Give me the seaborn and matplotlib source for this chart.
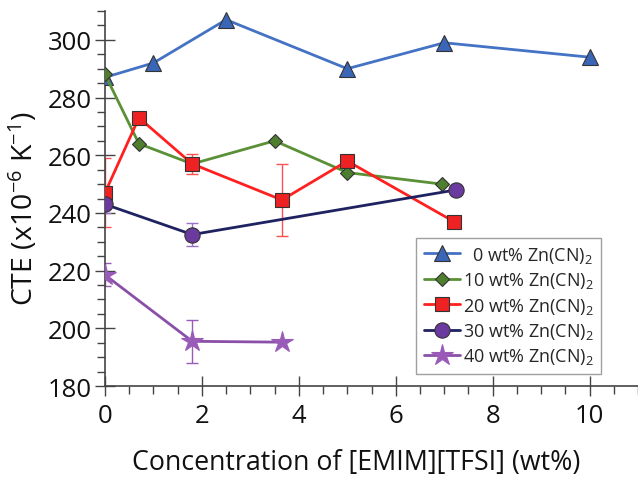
import matplotlib
matplotlib.use("Agg")
import matplotlib.pyplot as plt
import seaborn as sns
import numpy as np
import pandas as pd
from matplotlib.ticker import MultipleLocator

# ---- data ----
x0 = [0, 1, 2.5, 5, 7, 10]
y0 = [287, 292, 307, 290, 299, 294]

x10 = [0, 0.7, 1.8, 3.5, 5, 6.95]
y10 = [288, 264, 257, 265, 254, 250]

x20 = [0, 0.7, 1.8, 3.65, 5, 7.2]
y20 = [247, 273, 257, 244.5, 258, 237]
e20 = [12, 0, 3.5, 12.5, 0, 0]

x30 = [0, 1.8, 7.25]
y30 = [243, 232.5, 248]
e30 = [3, 4, 0]

x40 = [0, 1.8, 3.65]
y40 = [218.5, 195.5, 195.2]
e40 = [4, 7.5, 0]

labels = ["  0 wt% Zn(CN)$_2$", "10 wt% Zn(CN)$_2$", "20 wt% Zn(CN)$_2$",
          "30 wt% Zn(CN)$_2$", "40 wt% Zn(CN)$_2$"]

sns.set_theme(style="white")
plt.rcParams['font.family'] = ['Open Sans', 'DejaVu Sans']
plt.rcParams['mathtext.fontset'] = 'custom'
plt.rcParams['mathtext.rm'] = 'Open Sans'
plt.rcParams['mathtext.it'] = 'Open Sans'

fig = plt.figure(figsize=(6.38, 4.81), dpi=100)
ax = fig.add_axes([0.1646, 0.1954, 0.8354, 0.7796])

series = [
    (x0, y0, None, labels[0], "#4472C4", "#3A66B8", "^", 11.5, "#4472C4"),
    (x10, y10, None, labels[1], "#5A9036", "#4E7F2E", "D", 7.5, "#5A9036"),
    (x20, y20, e20, labels[2], "#FF2020", "#EE2222", "s", 10, "#FF5050"),
    (x30, y30, e30, labels[3], "#1F2260", "#6B3A9E", "o", 11, "#9A70C8"),
    (x40, y40, e40, labels[4], "#8A4FA8", "#9A5BB8", "*", 16, "#9A5BB8"),
]

for xs, ys, es, lab, lc, mc, mk, ms, ec in series:
    if es is not None:
        ax.errorbar(xs, ys, yerr=es, fmt='none', ecolor=ec, elinewidth=1,
                    capsize=4, capthick=1, zorder=2)
    df = pd.DataFrame({"x": xs, "y": ys})
    sns.lineplot(data=df, x="x", y="y", ax=ax, color=lc, linewidth=2,
                 marker=mk, markersize=ms, markerfacecolor=mc,
                 markeredgecolor="#333333" if mk != "*" else mc,
                 markeredgewidth=0.8, label=lab, sort=False, zorder=3,
                 errorbar=None)

ax.set_xlim(0, 11)
ax.set_ylim(180, 310)
ax.xaxis.set_major_locator(MultipleLocator(2))
ax.xaxis.set_minor_locator(MultipleLocator(0.5))
ax.yaxis.set_major_locator(MultipleLocator(20))
ax.yaxis.set_minor_locator(MultipleLocator(5))
ax.set_yticks([180, 200, 220, 240, 260, 280, 300])
ax.set_xticks([0, 2, 4, 6, 8, 10])

for s in ["top", "right"]:
    ax.spines[s].set_visible(False)
for s in ["left", "bottom"]:
    ax.spines[s].set_color("#444444")
    ax.spines[s].set_linewidth(1.2)

ax.tick_params(axis='both', which='both', bottom=True, left=True)
ax.tick_params(axis='both', which='major', direction='inout', length=15,
               width=1, color="#444444", labelsize=18.5, labelcolor="#111111", pad=2)
ax.tick_params(axis='both', which='minor', direction='out', length=6,
               width=1, color="#444444")
ax.tick_params(axis='x', which='major', pad=5)

ax.set_xlabel("Concentration of [EMIM][TFSI] (wt%)", fontsize=19.3,
              color="#111111")
ax.xaxis.set_label_coords(0.471, -0.165)
ax.set_ylabel("CTE (x10$^{-6}$ K$^{-1}$)", fontsize=20.5, color="#111111")
ax.yaxis.set_label_coords(-0.122, 0.475)

leg = ax.legend(loc="lower right", bbox_to_anchor=(0.931, 0.033), fontsize=13,
                frameon=True, fancybox=False, edgecolor="#888888",
                handlelength=2.0, handletextpad=0.2, borderpad=0.4,
                labelspacing=0.3, borderaxespad=0)
leg.get_frame().set_linewidth(1)

fig.savefig("out.png", dpi=100)
